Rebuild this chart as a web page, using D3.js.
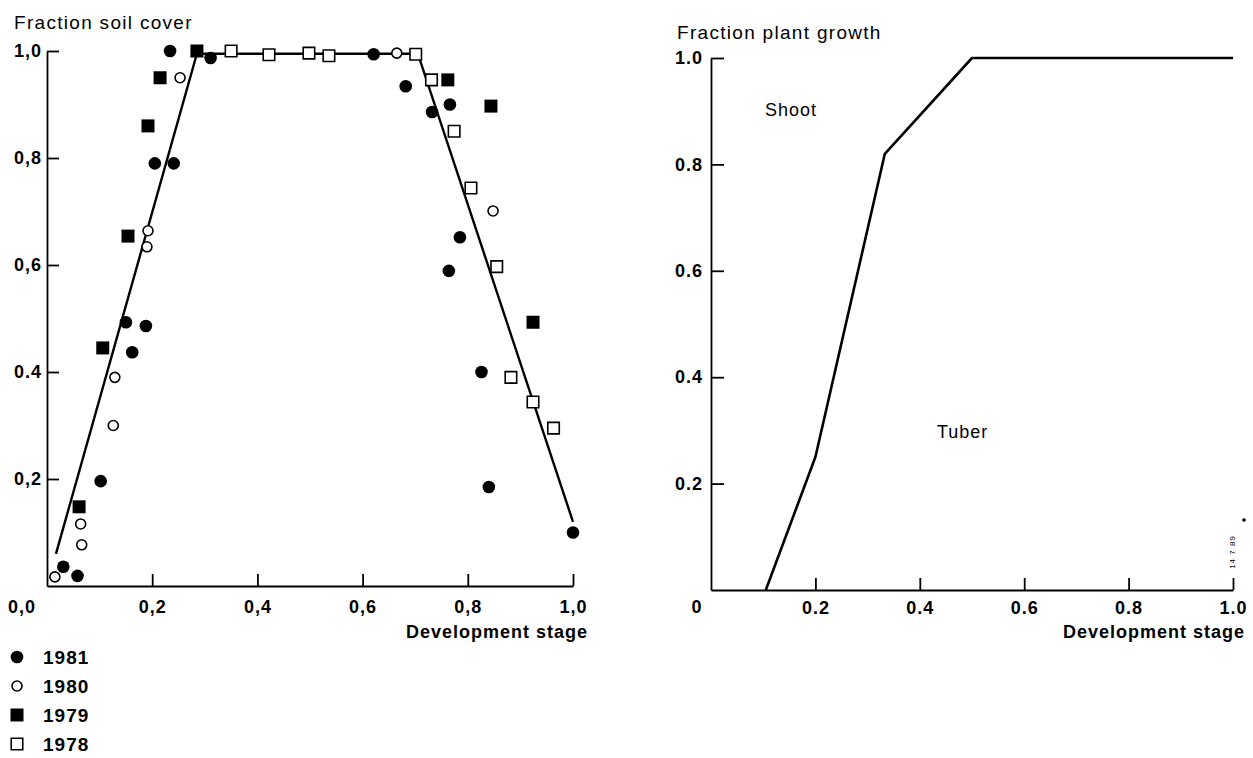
<!DOCTYPE html>
<html>
<head>
<meta charset="utf-8">
<script src="https://cdn.jsdelivr.net/npm/d3@7"></script>
<style>
  body { margin: 0; background: #fff; }
  svg { display: block; font-family: "Liberation Sans", Arial, sans-serif; }
  .tick text { font-size: 18px; font-weight: bold; letter-spacing: 1px; fill: #000; }
  .tick line, .domain { stroke: #000; stroke-width: 1.8; }
  .title { font-size: 19px; letter-spacing: 1.3px; }
  .axis-label { font-size: 18px; font-weight: bold; letter-spacing: 1px; }
  .legend text { font-size: 19px; font-weight: bold; letter-spacing: 1px; }
  .region { font-size: 18px; letter-spacing: 1px; }
</style>
</head>
<body>
<svg id="chart" width="1253" height="758"></svg>
<script>
// Left panel: fraction soil cover vs development stage, four seasons
// [development stage, fraction soil cover]
const cover1981 = [[0.031,0.036],[0.058,0.019],[0.102,0.196],[0.150,0.493],[0.162,0.437],[0.188,0.486],
  [0.205,0.79],[0.241,0.79],[0.234,1.0],[0.311,0.987],[0.621,0.994],[0.682,0.934],[0.732,0.886],
  [0.766,0.90],[0.785,0.652],[0.764,0.589],[0.826,0.40],[0.84,0.185],[1.0,0.10]];
const cover1980 = [[0.015,0.017],[0.064,0.116],[0.066,0.077],[0.126,0.30],[0.129,0.39],[0.19,0.634],
  [0.192,0.664],[0.253,0.95],[0.665,0.996],[0.848,0.701]];
const cover1979 = [[0.061,0.148],[0.106,0.445],[0.154,0.654],[0.192,0.86],[0.215,0.95],[0.285,1.0],
  [0.762,0.946],[0.844,0.897],[0.924,0.493]];
const cover1978 = [[0.35,1.0],[0.422,0.993],[0.498,0.996],[0.536,0.991],[0.701,0.994],[0.731,0.946],
  [0.774,0.85],[0.806,0.744],[0.855,0.597],[0.882,0.39],[0.924,0.344],[0.963,0.295]];
// fitted curve
const coverFit = [[0.017,0.06],[0.285,0.995],[0.705,0.995],[1.0,0.12]];

const leftXTicks = [0.2, 0.4, 0.6, 0.8, 1.0];
const leftXLabels = ['0,2', '0,4', '0,6', '0,8', '1,0'];
const leftYTicks = [0.2, 0.4, 0.6, 0.8, 1.0];
const leftYLabels = ['0,2', '0.4', '0,6', '0,8', '1,0'];

const legendYears = ['1981', '1980', '1979', '1978'];

// Right panel: partitioning of growth between shoot and tuber
const growthLine = [[0.105,0],[0.2,0.25],[0.333,0.82],[0.5,1.0],[1.0,1.0]];
const rightXTicks = [0.2, 0.4, 0.6, 0.8, 1.0];
const rightXLabels = ['0.2', '0.4', '0.6', '0.8', '1.0'];
const rightYTicks = [0.2, 0.4, 0.6, 0.8, 1.0];
const rightYLabels = ['0.2', '0.4', '0.6', '0.8', '1.0'];

const svg = d3.select('#chart');

// ---------- left panel ----------
const xL = d3.scaleLinear().domain([0, 1]).range([47, 573]);
const yL = d3.scaleLinear().domain([0, 1]).range([586, 51]);

svg.append('g')
  .attr('transform', `translate(0,${yL(0)})`)
  .call(d3.axisBottom(xL).tickValues(leftXTicks)
    .tickFormat((d, i) => leftXLabels[i])
    .tickSizeInner(-12).tickSizeOuter(0).tickPadding(14));

svg.append('g')
  .attr('transform', `translate(${xL(0)},0)`)
  .call(d3.axisLeft(yL).tickValues(leftYTicks)
    .tickFormat((d, i) => leftYLabels[i])
    .tickSizeInner(-12).tickSizeOuter(0).tickPadding(5));

svg.selectAll('.domain').attr('fill', 'none');

svg.append('text')
  .attr('x', 22).attr('y', yL(0) + 27)
  .attr('text-anchor', 'middle')
  .style('font-size', '18px').style('font-weight', 'bold').style('letter-spacing', '1px')
  .text('0,0');

svg.append('text').attr('class', 'title')
  .attr('x', 14).attr('y', 29)
  .text('Fraction soil cover');

svg.append('text').attr('class', 'axis-label')
  .attr('x', 588).attr('y', 638)
  .attr('text-anchor', 'end')
  .text('Development stage');

const line = d3.line();

svg.append('path')
  .datum(coverFit.map(d => [xL(d[0]), yL(d[1])]))
  .attr('d', line)
  .attr('fill', 'none')
  .attr('stroke', '#000')
  .attr('stroke-width', 2.4);

// marker styles per year
const markers = {
  '1981': { sym: d3.symbol().type(d3.symbolCircle).size(Math.PI * 6.3 * 6.3), fill: '#000', stroke: 'none' },
  '1980': { sym: d3.symbol().type(d3.symbolCircle).size(Math.PI * 5 * 5), fill: '#fff', stroke: '#000' },
  '1979': { sym: d3.symbol().type(d3.symbolSquare).size(13 * 13), fill: '#000', stroke: 'none' },
  '1978': { sym: d3.symbol().type(d3.symbolSquare).size(11.5 * 11.5), fill: '#fff', stroke: '#000' }
};
const seriesData = { '1981': cover1981, '1980': cover1980, '1979': cover1979, '1978': cover1978 };

['1978', '1980', '1979', '1981'].forEach(yr => {
  const m = markers[yr];
  svg.append('g').selectAll('path')
    .data(seriesData[yr])
    .join('path')
    .attr('transform', d => `translate(${xL(d[0])},${yL(d[1])})`)
    .attr('d', m.sym())
    .attr('fill', m.fill)
    .attr('stroke', m.stroke)
    .attr('stroke-width', 1.6);
});

// legend
const legend = svg.append('g').attr('class', 'legend');
const legendY = d3.scalePoint().domain(legendYears).range([657, 744]);
legendYears.forEach(yr => {
  const m = markers[yr];
  const g = legend.append('g').attr('transform', `translate(17,${legendY(yr)})`);
  g.append('path').attr('d', m.sym()).attr('fill', m.fill).attr('stroke', m.stroke).attr('stroke-width', 1.6);
  g.append('text').attr('x', 26).attr('dy', '0.36em').text(yr);
});

// ---------- right panel ----------
const xR = d3.scaleLinear().domain([0, 1]).range([711, 1233]);
const yR = d3.scaleLinear().domain([0, 1]).range([590, 58]);

svg.append('g')
  .attr('transform', `translate(0,${yR(0)})`)
  .call(d3.axisBottom(xR).tickValues(rightXTicks)
    .tickFormat((d, i) => rightXLabels[i])
    .tickSizeInner(-12).tickSizeOuter(0).tickPadding(11));

svg.append('g')
  .attr('transform', `translate(${xR(0)},0)`)
  .call(d3.axisLeft(yR).tickValues(rightYTicks)
    .tickFormat((d, i) => rightYLabels[i])
    .tickSizeInner(-13).tickSizeOuter(0).tickPadding(8));

svg.selectAll('.domain').attr('fill', 'none');

svg.append('text')
  .attr('x', 697).attr('y', yR(0) + 23)
  .attr('text-anchor', 'middle')
  .style('font-size', '18px').style('font-weight', 'bold').style('letter-spacing', '1px')
  .text('0');

svg.append('text').attr('class', 'title')
  .attr('x', 677).attr('y', 39)
  .text('Fraction plant growth');

svg.append('text').attr('class', 'axis-label')
  .attr('x', 1245).attr('y', 638)
  .attr('text-anchor', 'end')
  .text('Development stage');

svg.append('path')
  .datum(growthLine.map(d => [xR(d[0]), yR(d[1])]))
  .attr('d', line)
  .attr('fill', 'none')
  .attr('stroke', '#000')
  .attr('stroke-width', 2.6)
  .attr('stroke-linejoin', 'round');

svg.append('text').attr('class', 'region')
  .attr('x', 765).attr('y', 116)
  .text('Shoot');

svg.append('text').attr('class', 'region')
  .attr('x', 937).attr('y', 438)
  .text('Tuber');

// small figure code near the axis end
svg.append('text')
  .attr('transform', `translate(1235,552) rotate(-90)`)
  .attr('text-anchor', 'middle')
  .style('font-size', '8px')
  .style('letter-spacing', '1px')
  .text('14 7 89');

svg.append('circle')
  .attr('cx', 1244).attr('cy', 520).attr('r', 1.8).attr('fill', '#000');
</script>
</body>
</html>
